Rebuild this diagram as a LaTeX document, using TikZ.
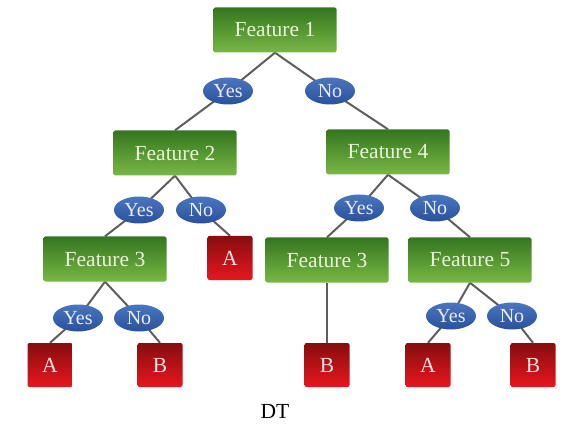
\documentclass[tikz,border=0pt]{standalone}
\usepackage{fontspec}
\setmainfont{Liberation Serif}
\usetikzlibrary{shapes.geometric,backgrounds}
\definecolor{featTop}{HTML}{357520}
\definecolor{featBot}{HTML}{78B844}
\definecolor{featText}{HTML}{EAF2DC}
\definecolor{leafTop}{HTML}{860D10}
\definecolor{leafBot}{HTML}{E8161E}
\definecolor{ansTop}{HTML}{4A76BE}
\definecolor{ansBot}{HTML}{2A519C}
\definecolor{edgeGray}{HTML}{5E5E5E}
\begin{document}
\begin{tikzpicture}[x=1pt,y=-1pt,
  lbl/.style={font=\fontsize{21.5}{22}\selectfont},
  feat/.style={lbl,rectangle,rounded corners=2pt,minimum width=123pt,minimum height=45pt,
    inner sep=0pt,top color=featTop,bottom color=featBot,text=featText},
  leaf/.style={lbl,rectangle,rounded corners=2pt,minimum width=45pt,minimum height=44pt,
    inner sep=0pt,top color=leafTop,bottom color=leafBot,text=white!88!red},
  ans/.style={font=\fontsize{20}{20}\selectfont,ellipse,minimum width=50pt,minimum height=27pt,
    inner sep=0pt,top color=ansTop,bottom color=ansBot,text=white!92!blue},
  link/.style={draw=edgeGray,line width=2pt}]
\useasboundingbox (0,0) rectangle (580,427);

% decision nodes
\node[feat] (f1)  at (275,30)  {Feature 1};
\node[feat] (f2)  at (175,153) {Feature 2};
\node[feat] (f4)  at (388,152) {Feature 4};
\node[feat] (f3a) at (105,259) {Feature 3};
\node[feat] (f3b) at (327,260) {Feature 3};
\node[feat] (f5)  at (470,260) {Feature 5};

% answer labels on the branches
\node[ans] (y1) at (228,91)  {Yes};
\node[ans] (n1) at (330,91)  {No};
\node[ans] (y2) at (139,210) {Yes};
\node[ans] (n2) at (201,210) {No};
\node[ans] (y3) at (78,318)  {Yes};
\node[ans] (n3) at (139,318) {No};
\node[ans] (y4) at (359,208) {Yes};
\node[ans] (n4) at (435,208) {No};
\node[ans] (y5) at (451,316) {Yes};
\node[ans] (n5) at (512,316) {No};

% leaves
\node[leaf] (lA1) at (230,258) {A};
\node[leaf] (lA2) at (50,365)  {A};
\node[leaf] (lB1) at (160,365) {B};
\node[leaf] (lB2) at (327,365) {B};
\node[leaf] (lA3) at (428,365) {A};
\node[leaf] (lB3) at (533,365) {B};

% caption
\node[lbl] (cap) at (275,411) {DT};

% branches, drawn under the nodes
\begin{pgfonlayer}{background}
\draw[link] (f1.south) -- (y1.center) -- (f2.north);
\draw[link] (f1.south) -- (n1.center) -- (f4.north);
\draw[link] (f2.south) -- (y2.center) -- (f3a.north);
\draw[link] (f2.south) -- (n2.center) -- (lA1.north);
\draw[link] (f3a.south) -- (y3.center) -- (lA2.north);
\draw[link] (f3a.south) -- (n3.center) -- (lB1.north);
\draw[link] (f4.south) -- (y4.center) -- (f3b.north);
\draw[link] (f4.south) -- (n4.center) -- (f5.north);
\draw[link] (f3b.south) -- (lB2.north);
\draw[link] (f5.south) -- (y5.center) -- (lA3.north);
\draw[link] (f5.south) -- (n5.center) -- (lB3.north);
\end{pgfonlayer}
\end{tikzpicture}
\end{document}
